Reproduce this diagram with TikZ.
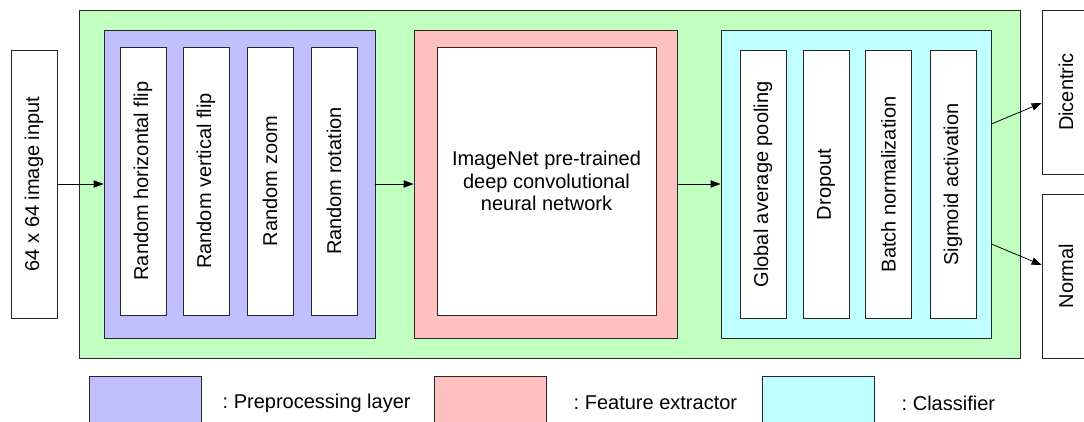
\documentclass[tikz,border=0pt]{standalone}
\usepackage{fontspec}
\setmainfont{Liberation Sans}
\usetikzlibrary{arrows.meta,calc}
\definecolor{grn}{HTML}{C0FFC0}
\definecolor{blu}{HTML}{C0C0FF}
\definecolor{rdd}{HTML}{FFC0C0}
\definecolor{cyn}{HTML}{C0FFFF}
\tikzset{
  box/.style={draw=black!85, line width=0.6pt, inner sep=0pt, align=center},
  layer/.style={box, fill=white, minimum width=34.5pt, minimum height=201pt},
  legbox/.style={box, minimum width=84pt, minimum height=34.5pt},
  arr/.style={-{Triangle[length=7.5pt,width=5.5pt]}, line width=0.6pt}
}
\frenchspacing
\begin{document}
\begin{tikzpicture}[x=0.75pt,y=-0.75pt,font=\fontsize{15}{17}\selectfont]
\clip (0,0) rectangle (1084,421);
\fill[white] (0,0) rectangle (1084,421);
\node[layer] (in) at (34,184) {\rotatebox{90}{64 x 64 image input}};
\node[box, fill=grn, minimum width=705.75pt, minimum height=261pt] (model) at (549.5,184) {};
\node[box, fill=blu, minimum width=203.25pt, minimum height=231pt] (pre) at (239.5,184) {};
\node[layer] (p1) at (143,181) {\rotatebox{90}{Random horizontal flip}};
\node[layer] (p2) at (206,181) {\rotatebox{90}{Random vertical flip}};
\node[layer] (p3) at (270,181) {\rotatebox{90}{Random zoom}};
\node[layer] (p4) at (334,181) {\rotatebox{90}{Random rotation}};
\node[box, fill=rdd, minimum width=197.25pt, minimum height=231pt] (feat) at (545.5,184) {};
\node[layer, minimum width=164.25pt] (cnn) at (546.5,181) {ImageNet pre-trained\\deep convolutional\\neural network};
\node[box, fill=cyn, minimum width=202.5pt, minimum height=231pt] (cls) at (856,184) {};
\node[layer] (c1) at (763,184.5) {\rotatebox{90}{Global average pooling}};
\node[layer] (c2) at (826,184.5) {\rotatebox{90}{Dropout}};
\node[layer] (c3) at (888.5,184.5) {\rotatebox{90}{Batch normalization}};
\node[layer] (c4) at (953,184.5) {\rotatebox{90}{Sigmoid activation}};
\node[box, fill=white, minimum width=36pt, minimum height=123pt] (dic) at (1066,92) {\rotatebox{90}{Dicentric}};
\node[box, fill=white, minimum width=36pt, minimum height=123pt] (nrm) at (1066,276) {\rotatebox{90}{Normal}};
\draw[arr] (in.east) -- (pre.west);
\draw[arr] (pre.east) -- (feat.west);
\draw[arr] (feat.east) -- (cls.west);
\draw[arr] ($(cls.east)+(0,-60)$) -- ($(dic.west)+(0,11)$);
\draw[arr] ($(cls.east)+(0,60)$) -- ($(nrm.west)+(0,-11)$);
\node[legbox, fill=blu] (lg1) at (145,399) {};
\node[anchor=west] (lt1) at (218,403) {: Preprocessing layer};
\node[legbox, fill=rdd] (lg2) at (490.5,399) {};
\node[anchor=west] (lt2) at (569,403) {: Feature extractor};
\node[legbox, fill=cyn] (lg3) at (818.5,399) {};
\node[anchor=west] (lt3) at (897,403) {: Classifier};
\end{tikzpicture}
\end{document}
